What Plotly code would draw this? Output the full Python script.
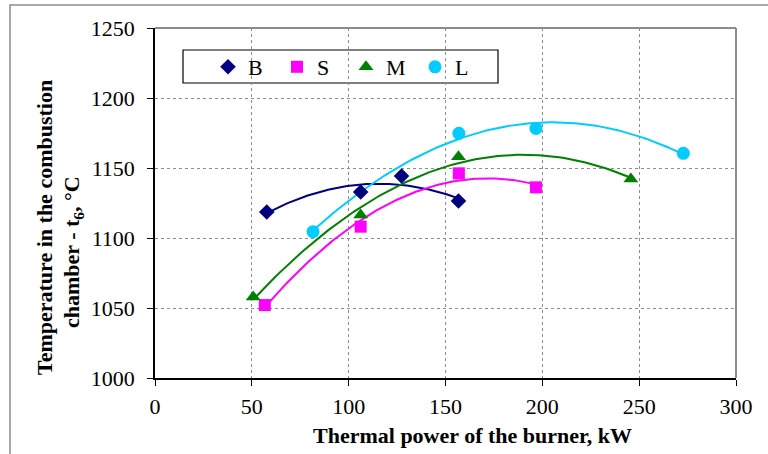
import numpy as np
import plotly.graph_objects as go

# ---- data ----
B_x = [57.7, 106.2, 127.3, 156.7]
B_y = [1118.6, 1132.9, 1144.3, 1126.4]
S_x = [56.7, 106.2, 156.9, 196.7]
S_y = [1052.1, 1108.1, 1146.2, 1136.2]
M_x = [50.7, 106.2, 156.7, 245.7]
M_y = [1057.9, 1116.4, 1158.1, 1142.1]
L_x = [81.6, 156.9, 196.7, 272.8]
L_y = [1104.5, 1174.8, 1178.3, 1160.5]

series_names = ["B", "S", "M", "L"]
series_x = [B_x, S_x, M_x, L_x]
series_y = [B_y, S_y, M_y, L_y]
colors = ["#000080", "#FF00FF", "#008000", "#00CCFF"]
symbols = ["diamond", "square", "triangle-up", "circle"]
sizes = [12, 12, 13, 13]

x_ticks = [0, 50, 100, 150, 200, 250, 300]
y_ticks = [1000, 1050, 1100, 1150, 1200, 1250]

FONT = "Liberation Serif, Times New Roman, serif"
FS = 22

fig = go.Figure()
# polynomial (order 2) trendlines
for name, xs, ys, c in zip(series_names, series_x, series_y, colors):
    coef = np.polyfit(xs, ys, 2)
    xx = np.linspace(min(xs), max(xs), 120)
    fig.add_trace(go.Scatter(x=xx, y=np.polyval(coef, xx), mode="lines",
                             line=dict(color=c, width=2), showlegend=False,
                             hoverinfo="skip"))
for name, xs, ys, c, s, sz in zip(series_names, series_x, series_y, colors, symbols, sizes):
    fig.add_trace(go.Scatter(x=xs, y=ys, mode="markers", name=name,
                             marker=dict(color=c, symbol=s, size=sz,
                                         line=dict(width=0))))

L_PX, R_PX, T_PX, B_PX = 155, 736, 28, 378
W = R_PX - L_PX
H = B_PX - T_PX
def px(x):
    return (x - L_PX) / W
def py(y):
    return (B_PX - y) / H

fig.update_layout(
    width=768, height=454,
    margin=dict(l=L_PX, r=768 - R_PX, t=T_PX, b=454 - B_PX),
    paper_bgcolor="white", plot_bgcolor="white",
    font=dict(family=FONT, size=FS, color="black"),
    xaxis=dict(range=[0, 300], tickvals=x_ticks, showgrid=True,
               gridcolor="#8c8c8c", griddash="dot", gridwidth=1,
               showline=True, linecolor="black", linewidth=1.5,
               ticks="outside", ticklen=6, tickcolor="black",
               zeroline=False, ticklabelstandoff=2,
               tickfont=dict(size=FS, family=FONT)),
    yaxis=dict(range=[1000, 1250], tickvals=y_ticks, showgrid=True,
               gridcolor="#8c8c8c", griddash="dot", gridwidth=1,
               showline=True, linecolor="black", linewidth=1.5,
               ticks="outside", ticklen=6, tickcolor="black",
               zeroline=False, ticklabelstandoff=8,
               tickfont=dict(size=FS, family=FONT)),
    legend=dict(orientation="h", x=px(208), xanchor="left",
                y=py(67), yanchor="middle", bgcolor="rgba(0,0,0,0)",
                borderwidth=0, entrywidth=24, entrywidthmode="pixels",
                font=dict(size=FS, family=FONT)),
    showlegend=True,
)

# outer chart border
fig.add_shape(type="rect", xref="paper", yref="paper",
              x0=px(10), x1=px(790), y0=py(470), y1=py(5),
              line=dict(color="#8c8c8c", width=1.5), layer="below")
# plot area top/right border
fig.add_shape(type="line", xref="paper", yref="paper", x0=0, x1=1, y0=1, y1=1,
              line=dict(color="#8c8c8c", width=2))
fig.add_shape(type="line", xref="paper", yref="paper", x0=1, x1=1, y0=0, y1=1,
              line=dict(color="#8c8c8c", width=2))
# legend box
fig.add_shape(type="rect", xref="paper", yref="paper",
              x0=px(183), x1=px(498), y0=py(83), y1=py(50),
              line=dict(color="black", width=1.2), fillcolor="white", layer="below")

# axis titles
fig.add_annotation(text="<b>Thermal power of the burner, kW</b>", xref="paper", yref="paper",
                   x=px(472), y=py(435), xanchor="center", yanchor="middle",
                   showarrow=False, font=dict(size=FS, family=FONT))
fig.add_annotation(text="<b>Temperature in the combustion</b>", xref="paper", yref="paper",
                   x=px(44), y=py(228), xanchor="center", yanchor="middle", textangle=-90,
                   showarrow=False, font=dict(size=FS, family=FONT))
fig.add_annotation(text="<b>chamber - t<sub>6</sub>, °C</b>", xref="paper", yref="paper",
                   x=px(73), y=py(252), xanchor="center", yanchor="middle", textangle=-90,
                   showarrow=False, font=dict(size=FS, family=FONT))

fig.write_html("out.html")
